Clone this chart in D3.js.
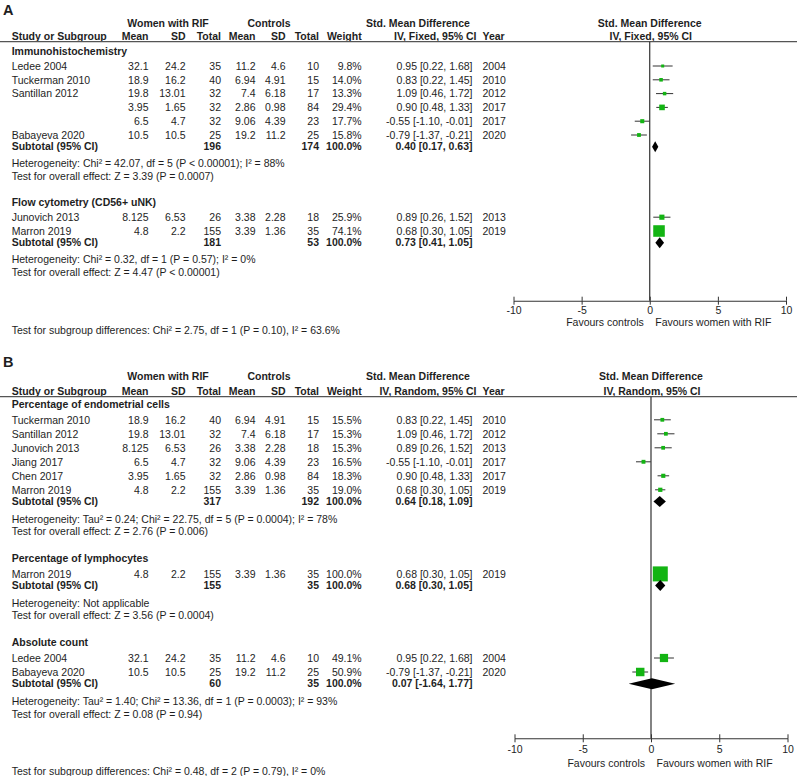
<!DOCTYPE html>
<html><head><meta charset="utf-8">
<script src="https://cdn.jsdelivr.net/npm/d3@7"></script>
<style>body{margin:0;background:#fff}svg{display:block}text{font-family:"Liberation Sans",Arial,sans-serif;fill:#1e1e1e}</style>
</head><body>
<script>
// ---------------- DATA ----------------
const axisTicks = [-10, -5, 0, 5, 10];

// Panel A
const groupTitlesA = ["Immunohistochemistry", "Flow cytometry (CD56+ uNK)"];
const studiesA1 = [
  {name:"Ledee 2004",     m1:32.1,  sd1:24.2,  n1:35, m2:11.2, sd2:4.6,  n2:10, w:9.8,  est:0.95,  lo:0.22,  hi:1.68,  year:2004},
  {name:"Tuckerman 2010", m1:18.9,  sd1:16.2,  n1:40, m2:6.94, sd2:4.91, n2:15, w:14.0, est:0.83,  lo:0.22,  hi:1.45,  year:2010},
  {name:"Santillan 2012", m1:19.8,  sd1:13.01, n1:32, m2:7.4,  sd2:6.18, n2:17, w:13.3, est:1.09,  lo:0.46,  hi:1.72,  year:2012},
  {name:"",               m1:3.95,  sd1:1.65,  n1:32, m2:2.86, sd2:0.98, n2:84, w:29.4, est:0.90,  lo:0.48,  hi:1.33,  year:2017},
  {name:"",               m1:6.5,   sd1:4.7,   n1:32, m2:9.06, sd2:4.39, n2:23, w:17.7, est:-0.55, lo:-1.10, hi:-0.01, year:2017},
  {name:"Babayeva 2020",  m1:10.5,  sd1:10.5,  n1:25, m2:19.2, sd2:11.2, n2:25, w:15.8, est:-0.79, lo:-1.37, hi:-0.21, year:2020}
];
const studiesA2 = [
  {name:"Junovich 2013",  m1:8.125, sd1:6.53,  n1:26,  m2:3.38, sd2:2.28, n2:18, w:25.9, est:0.89, lo:0.26, hi:1.52, year:2013},
  {name:"Marron 2019",    m1:4.8,   sd1:2.2,   n1:155, m2:3.39, sd2:1.36, n2:35, w:74.1, est:0.68, lo:0.30, hi:1.05, year:2019}
];
const subtotalsA = [
  {n1:196, n2:174, w:100.0, est:0.40, lo:0.17, hi:0.63},
  {n1:181, n2:53,  w:100.0, est:0.73, lo:0.41, hi:1.05}
];
const hetA = [
  "Heterogeneity: Chi\u00b2 = 42.07, df = 5 (P < 0.00001); I\u00b2 = 88%",
  "Heterogeneity: Chi\u00b2 = 0.32, df = 1 (P = 0.57); I\u00b2 = 0%"
];
const overallA = [
  "Test for overall effect: Z = 3.39 (P = 0.0007)",
  "Test for overall effect: Z = 4.47 (P < 0.00001)"
];
const subgroupTestA = "Test for subgroup differences: Chi\u00b2 = 2.75, df = 1 (P = 0.10), I\u00b2 = 63.6%";

// Panel B
const groupTitlesB = ["Percentage of endometrial cells", "Percentage of lymphocytes", "Absolute count"];
const studiesB1 = [
  {name:"Tuckerman 2010", m1:18.9,  sd1:16.2,  n1:40,  m2:6.94, sd2:4.91, n2:15, w:15.5, est:0.83,  lo:0.22,  hi:1.45,  year:2010},
  {name:"Santillan 2012", m1:19.8,  sd1:13.01, n1:32,  m2:7.4,  sd2:6.18, n2:17, w:15.3, est:1.09,  lo:0.46,  hi:1.72,  year:2012},
  {name:"Junovich 2013",  m1:8.125, sd1:6.53,  n1:26,  m2:3.38, sd2:2.28, n2:18, w:15.3, est:0.89,  lo:0.26,  hi:1.52,  year:2013},
  {name:"Jiang 2017",     m1:6.5,   sd1:4.7,   n1:32,  m2:9.06, sd2:4.39, n2:23, w:16.5, est:-0.55, lo:-1.10, hi:-0.01, year:2017},
  {name:"Chen 2017",      m1:3.95,  sd1:1.65,  n1:32,  m2:2.86, sd2:0.98, n2:84, w:18.3, est:0.90,  lo:0.48,  hi:1.33,  year:2017},
  {name:"Marron 2019",    m1:4.8,   sd1:2.2,   n1:155, m2:3.39, sd2:1.36, n2:35, w:19.0, est:0.68,  lo:0.30,  hi:1.05,  year:2019}
];
const studiesB2 = [
  {name:"Marron 2019",    m1:4.8,   sd1:2.2,   n1:155, m2:3.39, sd2:1.36, n2:35, w:100.0, est:0.68, lo:0.30, hi:1.05, year:2019}
];
const studiesB3 = [
  {name:"Ledee 2004",     m1:32.1,  sd1:24.2,  n1:35, m2:11.2, sd2:4.6,  n2:10, w:49.1, est:0.95,  lo:0.22,  hi:1.68,  year:2004},
  {name:"Babayeva 2020",  m1:10.5,  sd1:10.5,  n1:25, m2:19.2, sd2:11.2, n2:25, w:50.9, est:-0.79, lo:-1.37, hi:-0.21, year:2020}
];
const subtotalsB = [
  {n1:317, n2:192, w:100.0, est:0.64, lo:0.18,  hi:1.09},
  {n1:155, n2:35,  w:100.0, est:0.68, lo:0.30,  hi:1.05},
  {n1:60,  n2:35,  w:100.0, est:0.07, lo:-1.64, hi:1.77}
];
const hetB = [
  "Heterogeneity: Tau\u00b2 = 0.24; Chi\u00b2 = 22.75, df = 5 (P = 0.0004); I\u00b2 = 78%",
  "Heterogeneity: Not applicable",
  "Heterogeneity: Tau\u00b2 = 1.40; Chi\u00b2 = 13.36, df = 1 (P = 0.0003); I\u00b2 = 93%"
];
const overallB = [
  "Test for overall effect: Z = 2.76 (P = 0.006)",
  "Test for overall effect: Z = 3.56 (P = 0.0004)",
  "Test for overall effect: Z = 0.08 (P = 0.94)"
];
const subgroupTestB = "Test for subgroup differences: Chi\u00b2 = 0.48, df = 2 (P = 0.79), I\u00b2 = 0%";

// ---------------- DRAWING ----------------
const W = 800, H = 776, FS = 10.5;
const svg = d3.select("body").append("svg").attr("width", W).attr("height", H);
const col = {left:11.7, m1:148.5, sd1:185.5, n1:221, m2:255.5, sd2:285.5, n2:319, w:361.7, ci:472.5, year:482.5};
const GREEN = "#13b413", INK = "#1e1e1e";
const boxSize = d3.scaleLinear().domain([0, 100]).range([1.7, 15]);

function t(g, x, yc, str, opt = {}) {
  const size = opt.size || FS;
  return g.append("text")
    .attr("x", x).attr("y", yc + size * 0.36)
    .attr("text-anchor", opt.anchor || "start")
    .attr("font-size", size)
    .attr("font-weight", opt.bold ? "bold" : "normal")
    .text(str);
}
const f2 = v => v.toFixed(2);
const ciStr = d => `${f2(d.est)} [${f2(d.lo)}, ${f2(d.hi)}]`;

function drawPanel(p) {
  const g = svg.append("g");
  const x = d3.scaleLinear().domain([-10, 10]).range([p.x0, p.x1]);

  t(g, 3, p.labelY, p.label, {size:14.5, bold:true});
  // headers
  t(g, 168, p.h1, "Women with RIF", {anchor:"middle", bold:true});
  t(g, 269, p.h1, "Controls", {anchor:"middle", bold:true});
  t(g, 418, p.h1, "Std. Mean Difference", {anchor:"middle", bold:true});
  t(g, x(0), p.h1, "Std. Mean Difference", {anchor:"middle", bold:true});
  t(g, col.left, p.h2, "Study or Subgroup", {bold:true});
  t(g, col.m1, p.h2, "Mean", {anchor:"end", bold:true});
  t(g, col.sd1, p.h2, "SD", {anchor:"end", bold:true});
  t(g, col.n1, p.h2, "Total", {anchor:"end", bold:true});
  t(g, col.m2, p.h2, "Mean", {anchor:"end", bold:true});
  t(g, col.sd2, p.h2, "SD", {anchor:"end", bold:true});
  t(g, col.n2, p.h2, "Total", {anchor:"end", bold:true});
  t(g, col.w, p.h2, "Weight", {anchor:"end", bold:true});
  t(g, 476.5, p.h2, p.method, {anchor:"end", bold:true});
  t(g, col.year, p.h2, "Year", {bold:true});
  t(g, x(0) + 1, p.h2, p.method, {anchor:"middle", bold:true});

  g.append("line").attr("x1", 0).attr("x2", 797).attr("y1", p.lineY).attr("y2", p.lineY)
    .attr("stroke", "#555").attr("stroke-width", 1.3);
  g.append("line").attr("x1", x(0)).attr("x2", x(0)).attr("y1", p.lineY).attr("y2", p.axisY)
    .attr("stroke", INK).attr("stroke-width", 1.1);

  let y = p.firstHeader;
  p.groups.forEach((gr, gi) => {
    if (gi > 0) y += p.gaps.next;
    t(g, col.left, y, gr.title, {bold:true});
    gr.studies.forEach((s, i) => {
      y += (i === 0 ? p.gaps.first : p.gaps.step);
      t(g, col.left, y, s.name);
      t(g, col.m1, y, String(s.m1), {anchor:"end"});
      t(g, col.sd1, y, String(s.sd1), {anchor:"end"});
      t(g, col.n1, y, String(s.n1), {anchor:"end"});
      t(g, col.m2, y, String(s.m2), {anchor:"end"});
      t(g, col.sd2, y, String(s.sd2), {anchor:"end"});
      t(g, col.n2, y, String(s.n2), {anchor:"end"});
      t(g, col.w, y, s.w.toFixed(1) + "%", {anchor:"end"});
      t(g, col.ci, y, ciStr(s), {anchor:"end"});
      t(g, col.year, y, String(s.year));
      g.append("line").attr("x1", x(s.lo)).attr("x2", x(s.hi)).attr("y1", y).attr("y2", y)
        .attr("stroke", "#333").attr("stroke-width", 1);
      const b = boxSize(s.w);
      g.append("rect").attr("x", x(s.est) - b / 2).attr("y", y - b / 2)
        .attr("width", b).attr("height", b).attr("fill", GREEN);
    });
    y += p.gaps.sub;
    const st = gr.subtotal;
    t(g, col.left, y, "Subtotal (95% CI)", {bold:true});
    t(g, col.n1, y, String(st.n1), {anchor:"end", bold:true});
    t(g, col.n2, y, String(st.n2), {anchor:"end", bold:true});
    t(g, col.w, y, st.w.toFixed(1) + "%", {anchor:"end", bold:true});
    t(g, col.ci, y, ciStr(st), {anchor:"end", bold:true});
    const dh = 5.5;
    g.append("path")
      .attr("d", `M${x(st.lo)},${y}L${x(st.est)},${y - dh}L${x(st.hi)},${y}L${x(st.est)},${y + dh}Z`)
      .attr("fill", "#000");
    y += p.gaps.het;
    t(g, col.left, y, gr.het);
    y += p.gaps.test;
    t(g, col.left, y, gr.test);
  });

  // axis
  const ax = g.append("g").attr("transform", `translate(0,${p.axisY})`)
    .call(d3.axisBottom(x).tickValues(axisTicks).tickSize(4).tickSizeOuter(0)
      .tickPadding(p.tickPad).tickFormat(d => String(d)));
  ax.select(".domain").attr("stroke", "#333").attr("stroke-width", 1.1);
  ax.selectAll(".tick line").attr("stroke", "#333");
  ax.selectAll(".tick text").attr("font-size", FS).attr("font-family", "Liberation Sans, Arial, sans-serif").attr("fill", INK);
  const ax2 = g.append("g").attr("transform", `translate(0,${p.axisY})`)
    .call(d3.axisTop(x).tickValues(axisTicks).tickSize(4).tickSizeOuter(0).tickFormat(""));
  ax2.select(".domain").remove();
  ax2.selectAll(".tick line").attr("stroke", "#333");

  t(g, x(0) - 6, p.favY, "Favours controls", {anchor:"end"});
  t(g, x(0) + 5.5, p.favY, "Favours women with RIF");
  t(g, col.left, p.subgroupY, p.subgroupTest);
}

drawPanel({
  label:"A", labelY:10, h1:23.5, h2:36, lineY:41.7, firstHeader:51.5,
  method:"IV, Fixed, 95% CI", x0:513.5, x1:786,
  gaps:{first:14.5, step:13.8, sub:11.7, het:16.8, test:12.6, next:26.6},
  axisY:300.7, tickPad:1.8, favY:322, subgroupY:330, subgroupTest:subgroupTestA,
  groups: groupTitlesA.map((title, i) => ({
    title, studies:[studiesA1, studiesA2][i], subtotal:subtotalsA[i], het:hetA[i], test:overallA[i]
  }))
});

drawPanel({
  label:"B", labelY:361.5, h1:376, h2:391.2, lineY:396.7, firstHeader:404.5,
  method:"IV, Random, 95% CI", x0:514.5, x1:787.5,
  gaps:{first:15.3, step:14.0, sub:11.7, het:17.4, test:12.7, next:27},
  axisY:738.3, tickPad:3.2, favY:763.3, subgroupY:771.7, subgroupTest:subgroupTestB,
  groups: groupTitlesB.map((title, i) => ({
    title, studies:[studiesB1, studiesB2, studiesB3][i], subtotal:subtotalsB[i], het:hetB[i], test:overallB[i]
  }))
});
</script>
</body></html>
